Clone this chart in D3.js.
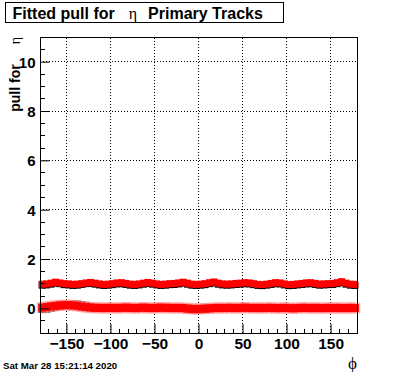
<!DOCTYPE html>
<html>
<head>
<meta charset="utf-8">
<script src="https://cdn.jsdelivr.net/npm/d3@7"></script>
<style>
    body { margin: 0; background: #fff; }
    text { font-family: "Liberation Sans", Arial, sans-serif; }
</style>
</head>
<body>
<div id="chart"></div>
<script>
// Bin centres in phi (5 degree bins)
const phiBins = [-177.5, -172.5, -167.5, -162.5, -157.5, -152.5, -147.5, -142.5, -137.5, -132.5,
    -127.5, -122.5, -117.5, -112.5, -107.5, -102.5, -97.5, -92.5, -87.5, -82.5,
    -77.5, -72.5, -67.5, -62.5, -57.5, -52.5, -47.5, -42.5, -37.5, -32.5,
    -27.5, -22.5, -17.5, -12.5, -7.5, -2.5, 2.5, 7.5, 12.5, 17.5,
    22.5, 27.5, 32.5, 37.5, 42.5, 47.5, 52.5, 57.5, 62.5, 67.5,
    72.5, 77.5, 82.5, 87.5, 92.5, 97.5, 102.5, 107.5, 112.5, 117.5,
    122.5, 127.5, 132.5, 137.5, 142.5, 147.5, 152.5, 157.5, 162.5, 167.5,
    172.5, 177.5]

// Pull width (sigma), fitted - red, and raw - black
const sigmaRed = [0.98, 0.99, 1.02, 1.06, 1.03, 1.00, 0.99, 0.97, 0.98, 1.00,
    1.03, 1.05, 1.02, 0.99, 0.97, 0.98, 1.00, 1.03, 1.04, 1.01,
    0.98, 0.97, 0.99, 1.02, 1.05, 1.02, 0.99, 0.97, 0.98, 1.00,
    1.01, 1.03, 1.06, 1.02, 0.98, 0.97, 0.98, 1.00, 1.04, 1.07,
    1.02, 0.99, 0.98, 0.99, 1.01, 1.02, 1.04, 1.03, 1.00, 0.97,
    0.96, 0.98, 1.01, 1.04, 1.03, 0.99, 0.96, 0.97, 0.99, 1.01,
    1.03, 1.04, 1.01, 0.98, 0.99, 1.00, 1.01, 1.04, 1.08, 1.02,
    0.98, 0.97]
const sigmaBlack = [0.94, 0.95, 0.98, 1.02, 1.00, 0.96, 0.95, 0.93, 0.94, 0.97,
    1.00, 1.01, 0.98, 0.95, 0.93, 0.94, 0.96, 0.99, 1.00, 0.97,
    0.94, 0.93, 0.95, 0.98, 1.01, 0.98, 0.95, 0.93, 0.94, 0.96,
    0.97, 0.99, 1.02, 0.98, 0.94, 0.93, 0.94, 0.96, 1.00, 1.03,
    0.98, 0.95, 0.94, 0.95, 0.97, 0.98, 1.00, 0.99, 0.96, 0.93,
    0.92, 0.94, 0.97, 1.00, 0.99, 0.95, 0.92, 0.93, 0.95, 0.97,
    0.99, 1.00, 0.97, 0.94, 0.95, 0.96, 0.97, 1.00, 1.04, 0.98,
    0.94, 0.93]

// Pull mean, fitted - red, and raw - black
const meanRed = [0.03, 0.05, 0.08, 0.10, 0.12, 0.13, 0.13, 0.12, 0.10, 0.07,
    0.05, 0.03, 0.02, 0.02, 0.01, 0.02, 0.02, 0.01, 0.02, 0.03,
    0.02, 0.01, 0.02, 0.03, 0.02, 0.01, 0.02, 0.03, 0.02, 0.02,
    0.01, 0.02, 0.01, -0.01, -0.02, -0.03, -0.02, -0.01, 0.00, 0.01,
    0.02, 0.01, 0.02, 0.02, 0.01, 0.02, 0.03, 0.02, 0.01, 0.02,
    0.01, 0.02, 0.02, 0.01, 0.01, 0.02, 0.01, 0.00, 0.01, 0.02,
    0.02, 0.01, 0.02, 0.01, 0.01, 0.02, 0.01, 0.02, 0.01, 0.01,
    0.02, 0.01]
const meanBlack = [-0.05, -0.03, 0.00, 0.04, 0.08, 0.12, 0.15, 0.17, 0.17, 0.15,
    0.12, 0.07, 0.03, 0.01, 0.00, 0.01, 0.02, 0.01, 0.00, 0.01,
    0.02, 0.01, 0.00, 0.01, 0.02, 0.01, 0.00, 0.01, 0.02, 0.01,
    0.00, -0.01, -0.02, -0.05, -0.07, -0.08, -0.07, -0.05, -0.03, -0.01,
    0.00, 0.01, 0.00, 0.01, 0.02, 0.01, 0.00, 0.01, 0.00, -0.01,
    0.00, 0.01, 0.00, -0.01, 0.00, 0.01, 0.00, -0.01, 0.00, 0.01,
    0.00, -0.01, 0.00, 0.01, 0.00, -0.01, 0.00, 0.01, 0.00, 0.01,
    0.00, -0.01]

// Axis ticks
const xTicks = [-150, -100, -50, 0, 50, 100, 150]
const yTicks = [0, 2, 4, 6, 8, 10]

const WIDTH = 396
const HEIGHT = 372
const margin = {left: 40, right: 39, top: 37, bottom: 39}

let svg = d3.select("#chart").append("svg")
    .attr("width", WIDTH)
    .attr("height", HEIGHT)

let x = d3.scaleLinear().domain([-180, 180]).range([margin.left, WIDTH - margin.right])
let y = d3.scaleLinear().domain([-1, 11]).range([HEIGHT - margin.bottom, margin.top])

// Dotted grid at the major ticks
svg.append("g").selectAll("line.gx").data(xTicks).enter().append("line")
    .attr("x1", d => x(d)).attr("x2", d => x(d))
    .attr("y1", y(-1)).attr("y2", y(11))
    .attr("stroke", "#000").attr("stroke-width", 1).attr("stroke-dasharray", "1,2")
    .attr("shape-rendering", "crispEdges")
svg.append("g").selectAll("line.gy").data(yTicks).enter().append("line")
    .attr("x1", x(-180)).attr("x2", x(180))
    .attr("y1", d => y(d)).attr("y2", d => y(d))
    .attr("stroke", "#000").attr("stroke-width", 1).attr("stroke-dasharray", "1,2")
    .attr("shape-rendering", "crispEdges")

// Markers: black drawn first, red on top
function drawMarkers(values, colour, size, halo) {
    let g = svg.append("g")
    let pts = phiBins.map((p, i) => [p, values[i]])
    if (halo) {
        g.selectAll("rect.h").data(pts).enter().append("rect")
            .attr("x", d => x(d[0]) - (size + 3) / 2)
            .attr("y", d => y(d[1]) - (size + 3) / 2)
            .attr("width", size + 3).attr("height", size + 3)
            .attr("fill", halo).attr("opacity", 0.6)
    }
    g.selectAll("rect.m").data(pts).enter().append("rect")
        .attr("x", d => x(d[0]) - size / 2)
        .attr("y", d => y(d[1]) - size / 2)
        .attr("width", size).attr("height", size)
        .attr("fill", colour)
}
drawMarkers(sigmaBlack, "#000", 7)
drawMarkers(meanBlack, "#000", 7)
drawMarkers(sigmaRed, "#ff0000", 7)
drawMarkers(meanRed, "#ff0000", 8, "#ff9090")

// Frame
svg.append("rect")
    .attr("x", x(-180)).attr("y", y(11))
    .attr("width", x(180) - x(-180)).attr("height", y(-1) - y(11))
    .attr("fill", "none").attr("stroke", "#000").attr("stroke-width", 1)
    .attr("shape-rendering", "crispEdges")

// X axis: major ticks every 50, minor every 10
let xAxis = d3.axisBottom(x).tickValues(xTicks).tickSizeInner(-9).tickSizeOuter(0)
    .tickFormat(d => d < 0 ? "\u2212" + Math.abs(d) : d)
let gx = svg.append("g").attr("transform", `translate(0,${y(-1)})`).call(xAxis)
gx.select(".domain").remove()
gx.selectAll("text").attr("dy", 0).attr("y", 16)
    .style("font-size", "15.5px").style("font-weight", "bold").attr("fill", "#000")
let xMinor = d3.range(-170, 180, 10).filter(d => d % 50 != 0)
svg.append("g").selectAll("line").data(xMinor).enter().append("line")
    .attr("x1", d => x(d)).attr("x2", d => x(d))
    .attr("y1", y(-1)).attr("y2", y(-1) - 4.5)
    .attr("stroke", "#000").attr("shape-rendering", "crispEdges")

// Y axis: major ticks every 2, minor every 0.5
let yAxis = d3.axisLeft(y).tickValues(yTicks).tickSizeInner(-9.5).tickSizeOuter(0)
let gy = svg.append("g").attr("transform", `translate(${x(-180)},0)`).call(yAxis)
gy.select(".domain").remove()
gy.selectAll("text").attr("x", -4.5).attr("dy", "0.36em")
    .style("font-size", "15px").style("font-weight", "bold").attr("fill", "#000")
let yMinor = d3.range(-0.5, 11, 0.5).filter(d => d % 2 != 0)
svg.append("g").selectAll("line").data(yMinor).enter().append("line")
    .attr("x1", x(-180)).attr("x2", x(-180) + 4.75)
    .attr("y1", d => y(d)).attr("y2", d => y(d))
    .attr("stroke", "#000").attr("shape-rendering", "crispEdges")

// Axis titles
svg.append("text")
    .attr("x", 357).attr("y", 369)
    .attr("text-anchor", "end")
    .style("font-family", "'Liberation Serif', serif").style("font-size", "17px")
    .text("\u03d5")
let yTitle = svg.append("text")
    .attr("transform", `translate(19.5,${margin.top}) rotate(-90)`)
    .attr("text-anchor", "end")
    .style("font-size", "14px").style("font-weight", "bold")
yTitle.append("tspan").text("pull for")
yTitle.append("tspan").style("font-family", "'Liberation Serif', serif").style("font-weight", "normal")
    .style("font-size", "14px").attr("dx", 20).text("\u03b7")

// Title box
svg.append("rect")
    .attr("x", 5.5).attr("y", 2.5).attr("width", 278).attr("height", 20)
    .attr("fill", "#fff").attr("stroke", "#000")
let title = svg.append("text")
    .attr("x", 12.5).attr("y", 18.5)
    .style("font-size", "16px").style("font-weight", "bold")
title.append("tspan").text("Fitted pull for")
title.append("tspan").style("font-family", "'Liberation Serif', serif").style("font-weight", "normal")
    .attr("dx", 14).text("\u03b7")
title.append("tspan").attr("dx", 11).text("Primary Tracks")

// Date stamp
svg.append("text")
    .attr("x", 3).attr("y", 369)
    .style("font-size", "9.7px").style("font-weight", "bold")
    .text("Sat Mar 28 15:21:14 2020")
</script>
</body>
</html>
